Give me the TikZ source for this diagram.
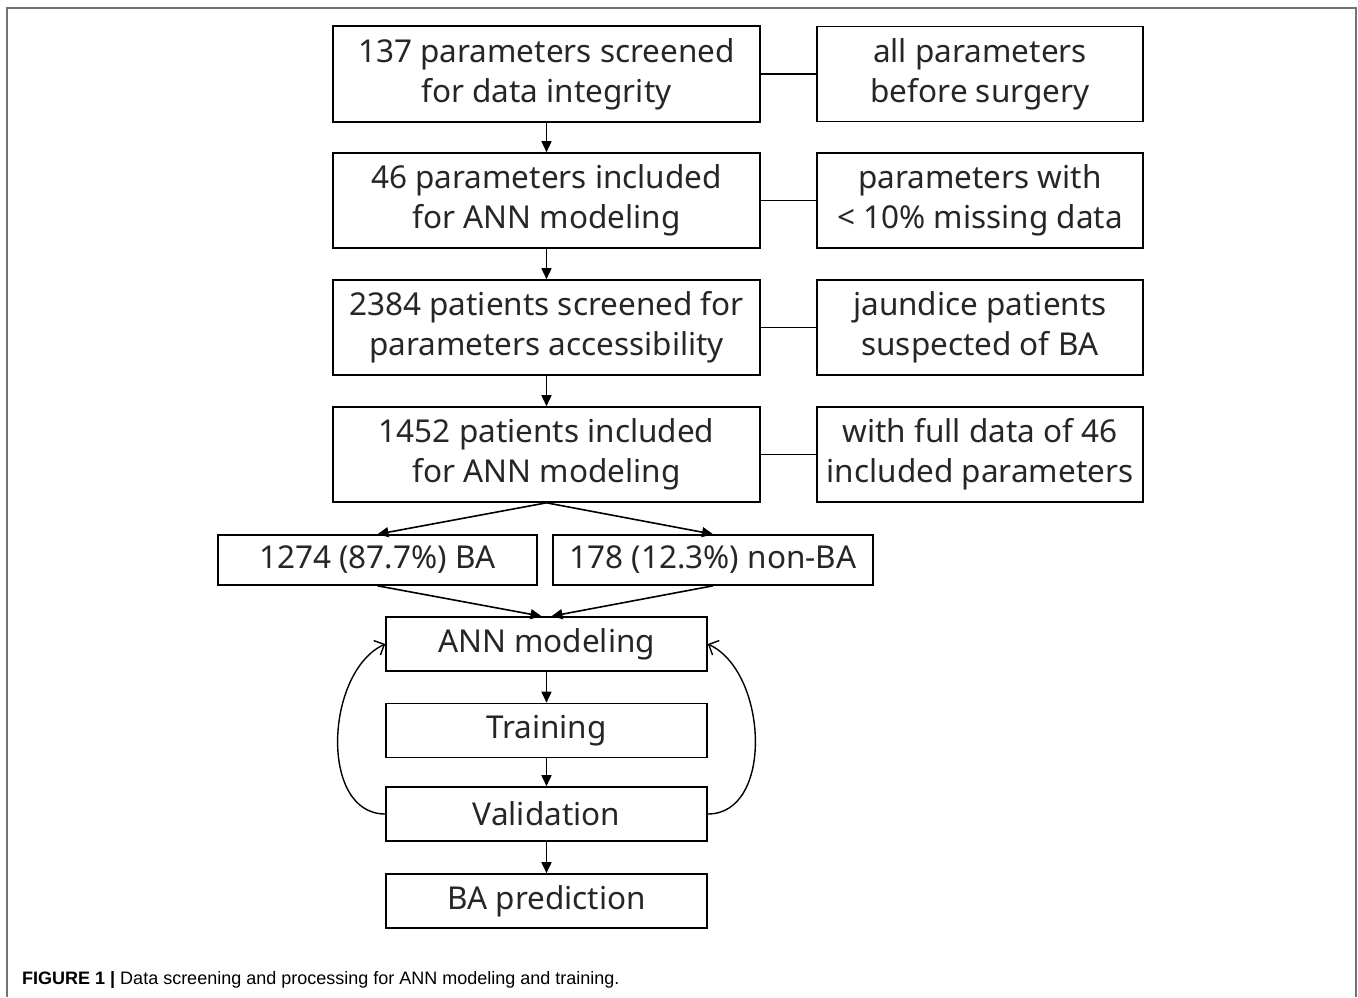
\documentclass[tikz,border=0pt]{standalone}
\usepackage{fontspec}
\setmainfont{Noto Sans}
\newfontfamily\capfont{Liberation Sans}
\usetikzlibrary{arrows.meta}
\tikzset{
  box/.style={draw, line width=1.6pt, inner sep=0pt, align=center,
    font=\fontsize{31.5pt}{40pt}\selectfont, text=black!85},
  flow/.style={line width=1.6pt, -{Triangle[length=11pt,width=10pt]}},
  loopback/.style={line width=1.4pt, -{Straight Barb[length=8pt,width=16pt]}},
  link/.style={line width=1.6pt}
}
\begin{document}
\begin{tikzpicture}[x=1pt,y=-1pt]
\useasboundingbox (0,0) rectangle (1358,997);
\draw[line width=1.6pt, black!55] (7,997) -- (7,8) -- (1356,8) -- (1356,997);
% main column
\node[box, minimum width=427pt, minimum height=96pt] (b1) at (546.5,74) {137 parameters screened\\for data integrity};
\node[box, minimum width=326pt, minimum height=95pt] (r1) at (980,74) {all parameters\\before surgery};
\node[box, minimum width=427pt, minimum height=95pt] (b2) at (546.5,200.5) {46 parameters included\\for ANN modeling};
\node[box, minimum width=326pt, minimum height=95pt] (r2) at (980,200.5) {parameters with\\\textless{} 10\% missing data};
\node[box, minimum width=427pt, minimum height=95pt] (b3) at (546.5,327.5) {2384 patients screened for\\parameters accessibility};
\node[box, minimum width=326pt, minimum height=95pt] (r3) at (980,327.5) {jaundice patients\\suspected of BA};
\node[box, minimum width=427pt, minimum height=95pt] (b4) at (546.5,454.5) {1452 patients included\\for ANN modeling};
\node[box, minimum width=326pt, minimum height=95pt] (r4) at (980,454.5) {with full data of 46\\included parameters};
\node[box, minimum width=319pt, minimum height=50pt] (ba) at (377.5,560) {1274 (87.7\%) BA};
\node[box, minimum width=320pt, minimum height=50pt] (nba) at (713,560) {178 (12.3\%) non-BA};
\node[box, minimum width=321pt, minimum height=54pt] (ann) at (546.5,644) {ANN modeling};
\node[box, minimum width=321pt, minimum height=54pt] (train) at (546.5,730.5) {Training};
\node[box, minimum width=321pt, minimum height=54pt] (val) at (546.5,814) {Validation};
\node[box, minimum width=321pt, minimum height=54pt] (pred) at (546.5,901) {BA prediction};
% links
\draw[link] (b1) -- (r1);
\draw[link] (b2) -- (r2);
\draw[link] (b3) -- (r3);
\draw[link] (b4) -- (r4);
% flow
\draw[flow] (b1) -- (b2);
\draw[flow] (b2) -- (b3);
\draw[flow] (b3) -- (b4);
\draw[flow] (b4.south) -- (ba.north);
\draw[flow] (b4.south) -- (nba.north);
\draw[flow] (ba.south) -- ([xshift=-5pt]ann.north);
\draw[flow] (nba.south) -- ([xshift=5pt]ann.north);
\draw[flow] (ann) -- (train);
\draw[flow] (train) -- (val);
\draw[flow] (val) -- (pred);
% loops
\draw[loopback] (val.west) to[out=180,in=205,looseness=1.0] (ann.west);
\draw[loopback] (val.east) to[out=0,in=-25,looseness=1.0] (ann.east);
% caption
\node[anchor=base west, inner sep=0pt, font=\capfont\fontsize{18pt}{21pt}\selectfont] (cap) at (22,984)
  {\textbf{FIGURE 1 |} Data screening and processing for ANN modeling and training.};
\end{tikzpicture}
\end{document}
